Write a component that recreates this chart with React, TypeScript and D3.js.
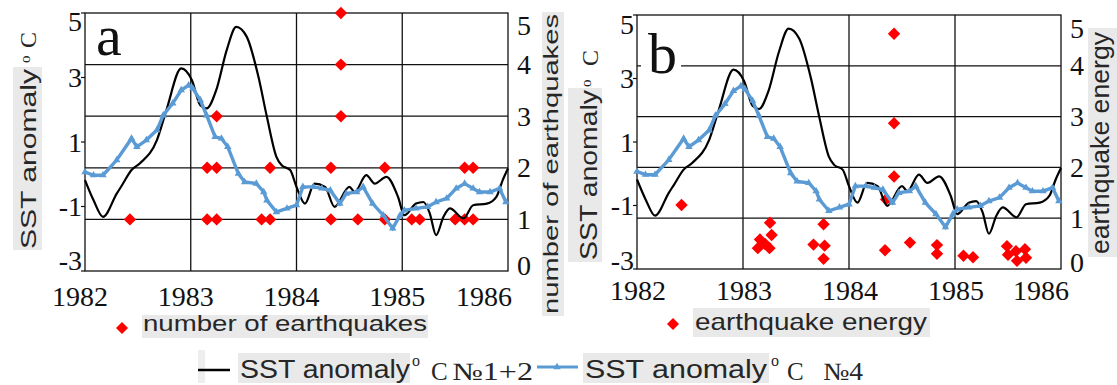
import React from "react";
import * as d3 from "d3";

// ---------- data ----------
const X_TICKS = [1982, 1983, 1984, 1985, 1986];
const LEFT_TICKS = [5, 3, 1, -1, -3];
const RIGHT_TICKS = [0, 1, 2, 3, 4, 5];

// SST anomaly Nino 1+2 (black)
const sst12Year = [1982.0, 1982.08, 1982.17, 1982.3, 1982.35, 1982.44, 1982.52, 1982.68, 1982.77, 1982.91, 1983.01, 1983.09, 1983.15, 1983.24, 1983.34, 1983.43, 1983.53, 1983.64, 1983.72, 1983.81, 1983.86, 1983.94, 1984.0, 1984.08, 1984.17, 1984.27, 1984.36, 1984.5, 1984.55, 1984.66, 1984.74, 1984.85, 1984.96, 1985.02, 1985.13, 1985.2, 1985.26, 1985.32, 1985.39, 1985.45, 1985.58, 1985.67, 1985.8, 1985.89, 1985.95, 1986.0];
const sst12Value = [-0.18, -0.8, -1.32, -0.6, -0.34, 0.13, 0.34, 1.06, 1.99, 3.28, 2.92, 2.14, 2.04, 2.6, 3.85, 4.57, 4.26, 3.02, 1.78, 0.54, 0.28, 0.13, -0.39, -0.91, -0.29, -0.39, -1.01, -0.39, -0.55, -0.03, -0.29, -0.08, -0.7, -1.27, -0.91, -0.86, -1.21, -1.89, -1.32, -1.06, -1.37, -0.96, -0.91, -0.7, -0.18, 0.18];

// SST anomaly Nino 4 (blue, triangles)
const sst4Year = [1982.0, 1982.08, 1982.17, 1982.3, 1982.44, 1982.49, 1982.58, 1982.68, 1982.74, 1982.83, 1982.91, 1982.98, 1983.02, 1983.09, 1983.15, 1983.23, 1983.29, 1983.35, 1983.45, 1983.51, 1983.62, 1983.69, 1983.72, 1983.81, 1983.91, 1984.0, 1984.06, 1984.16, 1984.24, 1984.32, 1984.41, 1984.47, 1984.57, 1984.63, 1984.72, 1984.82, 1984.91, 1984.98, 1985.02, 1985.13, 1985.24, 1985.32, 1985.42, 1985.51, 1985.59, 1985.67, 1985.73, 1985.83, 1985.92, 1985.98];
const sst4Value = [0.07, -0.03, -0.03, 0.44, 1.11, 0.85, 1.06, 1.37, 1.83, 2.2, 2.61, 2.76, 2.66, 2.3, 1.83, 1.16, 1.11, 0.85, 0.02, -0.24, -0.29, -0.55, -0.81, -1.17, -1.06, -0.96, -0.39, -0.39, -0.44, -0.5, -0.91, -0.6, -0.55, -0.39, -0.91, -1.27, -1.68, -1.27, -1.12, -1.06, -1.01, -0.86, -0.75, -0.44, -0.29, -0.44, -0.55, -0.55, -0.44, -0.86];

// number of earthquakes (panel a)
const quakeCountYear = [1982.425, 1983.155, 1983.155, 1983.245, 1983.245, 1983.245, 1983.67, 1983.75, 1983.75, 1984.325, 1984.325, 1984.42, 1984.42, 1984.42, 1984.58, 1984.835, 1984.835, 1985.09, 1985.165, 1985.5, 1985.59, 1985.59, 1985.67, 1985.67];
const quakeCount = [1, 2, 1, 3, 2, 1, 1, 2, 1, 2, 1, 5, 4, 3, 1, 2, 1, 1, 1, 1, 2, 1, 2, 1];

// earthquake energy (panel b)
const quakeEnergyYear = [1982.42, 1983.255, 1983.27, 1983.16, 1983.21, 1983.14, 1983.25, 1983.76, 1983.665, 1983.77, 1983.76, 1984.34, 1984.425, 1984.425, 1984.425, 1984.35, 1984.575, 1984.83, 1984.83, 1985.08, 1985.17, 1985.49, 1985.5, 1985.575, 1985.585, 1985.66, 1985.67];
const quakeEnergy = [1.26, 0.91, 0.67, 0.58, 0.49, 0.41, 0.41, 0.88, 0.48, 0.46, 0.2, 0.37, 1.82, 2.87, 4.63, 1.37, 0.52, 0.47, 0.3, 0.26, 0.23, 0.45, 0.28, 0.35, 0.16, 0.39, 0.22];

// ---------- styles ----------
const SANS = "'Liberation Sans', Arial, sans-serif";
const SERIF = "'Liberation Serif', 'Times New Roman', serif";
const BLUE = "#5B9BD5";
const RED = "#FF0000";
const HL = "#e9e9e9";
const TXT = "#262626";

const diamondPath = (r: number) => `M0,${-r}L${r},0L0,${r}L${-r},0Z`;
const triPath = d3.symbol(d3.symbolTriangle, 24)() as string;

type PanelProps = {
  left: number; right: number; top: number; bottom: number;
  scatterX: number[]; scatterY: number[];
  xLabOff: number; lastLabX: number; xLabBase: number;
  lTopClamp: number; lBotClamp: number;
  rTopClamp: number; rBotClamp: number;
};

function Panel(p: PanelProps) {
  const x = d3.scaleLinear().domain([1982, 1986]).range([p.left, p.right]);
  const yL = d3.scaleLinear().domain([-3, 5]).range([p.bottom, p.top]);
  const yR = d3.scaleLinear().domain([0, 5]).range([p.bottom, p.top]);
  const lineBlack = d3.line<number>().x((d, i) => x(sst12Year[i])).y((d) => yL(d)).curve(d3.curveMonotoneX);
  const lineBlue = d3.line<number>().x((d, i) => x(sst4Year[i])).y((d) => yL(d));
  const clamp = (v: number, a: number, b: number) => Math.max(a, Math.min(b, v));
  return (
    <g>
      {RIGHT_TICKS.filter((t) => t > 0 && t < 5).map((t) => (
        <line key={"h" + t} x1={p.left} x2={p.right} y1={yR(t)} y2={yR(t)} stroke="#111" strokeWidth={1.3} />
      ))}
      {X_TICKS.slice(1, -1).map((t) => (
        <line key={"v" + t} x1={x(t)} x2={x(t)} y1={p.top} y2={p.bottom} stroke="#111" strokeWidth={1.3} />
      ))}
      <rect x={p.left} y={p.top} width={p.right - p.left} height={p.bottom - p.top} fill="none" stroke="#111" strokeWidth={1.3} />
      {LEFT_TICKS.map((t) => (
        <g key={"l" + t}>
          <line x1={p.left - 4} x2={p.left} y1={yL(t)} y2={yL(t)} stroke="#111" strokeWidth={1.2} />
          <text x={p.left - 3} y={clamp(yL(t), p.top + p.lTopClamp, p.bottom - p.lBotClamp) + 9.5} textAnchor="end" fontFamily={SERIF} fontSize={28} fill="#111">{t < 0 ? "-" + Math.abs(t) : t}</text>
        </g>
      ))}
      {RIGHT_TICKS.map((t) => (
        <text key={"r" + t} x={p.right + 9} y={clamp(yR(t), p.top + p.rTopClamp, p.bottom - p.rBotClamp) + 9.5} fontFamily={SERIF} fontSize={28} fill="#111">{t}</text>
      ))}
      {X_TICKS.map((t, i) => (
        <text key={"x" + t} x={i === X_TICKS.length - 1 ? p.lastLabX : x(t) + p.xLabOff} y={p.xLabBase} textAnchor="middle" fontFamily={SERIF} fontSize={28} fill="#111">{t}</text>
      ))}
      {p.scatterY.map((v, i) => (
        <path key={"s" + i} d={diamondPath(6.2)} transform={`translate(${x(p.scatterX[i])},${yR(v)})`} fill={RED} />
      ))}
      <path d={lineBlack(sst12Value) as string} fill="none" stroke="#000" strokeWidth={2.2} />
      <path d={lineBlue(sst4Value) as string} fill="none" stroke={BLUE} strokeWidth={3.4} />
      {sst4Value.map((v, i) => (
        <path key={"t" + i} d={triPath} transform={`translate(${x(sst4Year[i])},${yL(v)})`} fill={BLUE} />
      ))}
    </g>
  );
}

function VText(props: { x: number; y: number; len: number; size: number; text: string; family?: string }) {
  return (
    <text transform={`translate(${props.x},${props.y}) rotate(-90)`} fontFamily={props.family || SANS} fontSize={props.size} fill={TXT} textLength={props.len} lengthAdjust="spacingAndGlyphs">{props.text}</text>
  );
}

export default function App() {
  return (
    <svg width={1117} height={385} style={{ position: "absolute", left: 0, top: 0, background: "#fff" }}>
      <rect x={0} y={0} width={1117} height={385} fill="#fff" />
      <Panel left={85} right={508} top={13} bottom={271} scatterX={quakeCountYear} scatterY={quakeCount}
        xLabOff={-5} lastLabX={484} xLabBase={306} lTopClamp={8.5} lBotClamp={11} rTopClamp={12} rBotClamp={6} />
      <text x={96} y={55} fontFamily={SERIF} fontSize={58} fill="#111">a</text>
      <Panel left={637} right={1061} top={15} bottom={269} scatterX={quakeEnergyYear} scatterY={quakeEnergy}
        xLabOff={1} lastLabX={1041} xLabBase={300} lTopClamp={9} lBotClamp={9} rTopClamp={13} rBotClamp={7} />
      <rect x={641} y={26} width={40} height={52} fill="#fff" />
      <text x={648} y={73} fontFamily={SERIF} fontSize={58} fill="#111">b</text>

      <rect x={13} y={67} width={29} height={183} fill={HL} />
      <VText x={36} y={249} len={180} size={22} text="SST anomaly" />
      <text transform="translate(30,63) rotate(-90)" fontFamily={SERIF} fontSize={15} fill={TXT}>o</text>
      <text transform="translate(36,48) rotate(-90)" fontFamily={SERIF} fontSize={24} fill={TXT}>C</text>
      <rect x={542} y={12} width={22} height={304} fill={HL} />
      <VText x={558} y={314} len={300} size={21} text="number of earthquakes" />

      <rect x={568} y={88} width={34} height={174} fill={HL} />
      <VText x={597} y={260} len={170} size={24} text="SST anomaly" />
      <text transform="translate(591,87) rotate(-90)" fontFamily={SERIF} fontSize={15} fill={TXT}>o</text>
      <text transform="translate(598,66) rotate(-90)" fontFamily={SERIF} fontSize={24} fill={TXT}>C</text>
      <rect x={1088} y={28} width={29} height={229} fill={HL} />
      <VText x={1109} y={254} len={222} size={25} text="earthquake energy" />

      <path d={diamondPath(6)} transform="translate(122,328)" fill={RED} />
      <rect x={142} y={315} width={286} height={23} fill={HL} />
      <text x={143} y={331} fontFamily={SANS} fontSize={22} fill={TXT} textLength={284} lengthAdjust="spacingAndGlyphs">number of earthquakes</text>
      <path d={diamondPath(6)} transform="translate(673,324)" fill={RED} />
      <rect x={693} y={308} width={237} height={29} fill={HL} />
      <text x={695} y={330} fontFamily={SANS} fontSize={24} fill={TXT} textLength={232} lengthAdjust="spacingAndGlyphs">earthquake energy</text>

      <rect x={198} y={350} width={7} height={33} fill="#eeeeee" />
      <line x1={198} x2={230} y1={370} y2={370} stroke="#000" strokeWidth={2.5} />
      <rect x={238} y={353} width={172} height={30} fill={HL} />
      <text x={240} y={378} fontFamily={SANS} fontSize={25} fill={TXT} textLength={170} lengthAdjust="spacingAndGlyphs">SST anomaly</text>
      <text x={412} y={366} fontFamily={SERIF} fontSize={16} fill={TXT}>o</text>
      <text x={431} y={380} fontFamily={SERIF} fontSize={25} fill={TXT}>C</text>
      <text x={452} y={380} fontFamily={SERIF} fontSize={25} fill={TXT} textLength={81} lengthAdjust="spacingAndGlyphs">№1+2</text>
      <line x1={537} x2={578} y1={367} y2={367} stroke={BLUE} strokeWidth={3} />
      <path d={triPath} transform="translate(557,367)" fill={BLUE} />
      <rect x={583} y={353} width={186} height={30} fill={HL} />
      <text x={585} y={378} fontFamily={SANS} fontSize={25} fill={TXT} textLength={182} lengthAdjust="spacingAndGlyphs">SST anomaly</text>
      <text x={771} y={366} fontFamily={SERIF} fontSize={16} fill={TXT}>o</text>
      <text x={787} y={380} fontFamily={SERIF} fontSize={25} fill={TXT}>C</text>
      <text x={823} y={380} fontFamily={SERIF} fontSize={25} fill={TXT} textLength={40} lengthAdjust="spacingAndGlyphs">№4</text>
    </svg>
  );
}
